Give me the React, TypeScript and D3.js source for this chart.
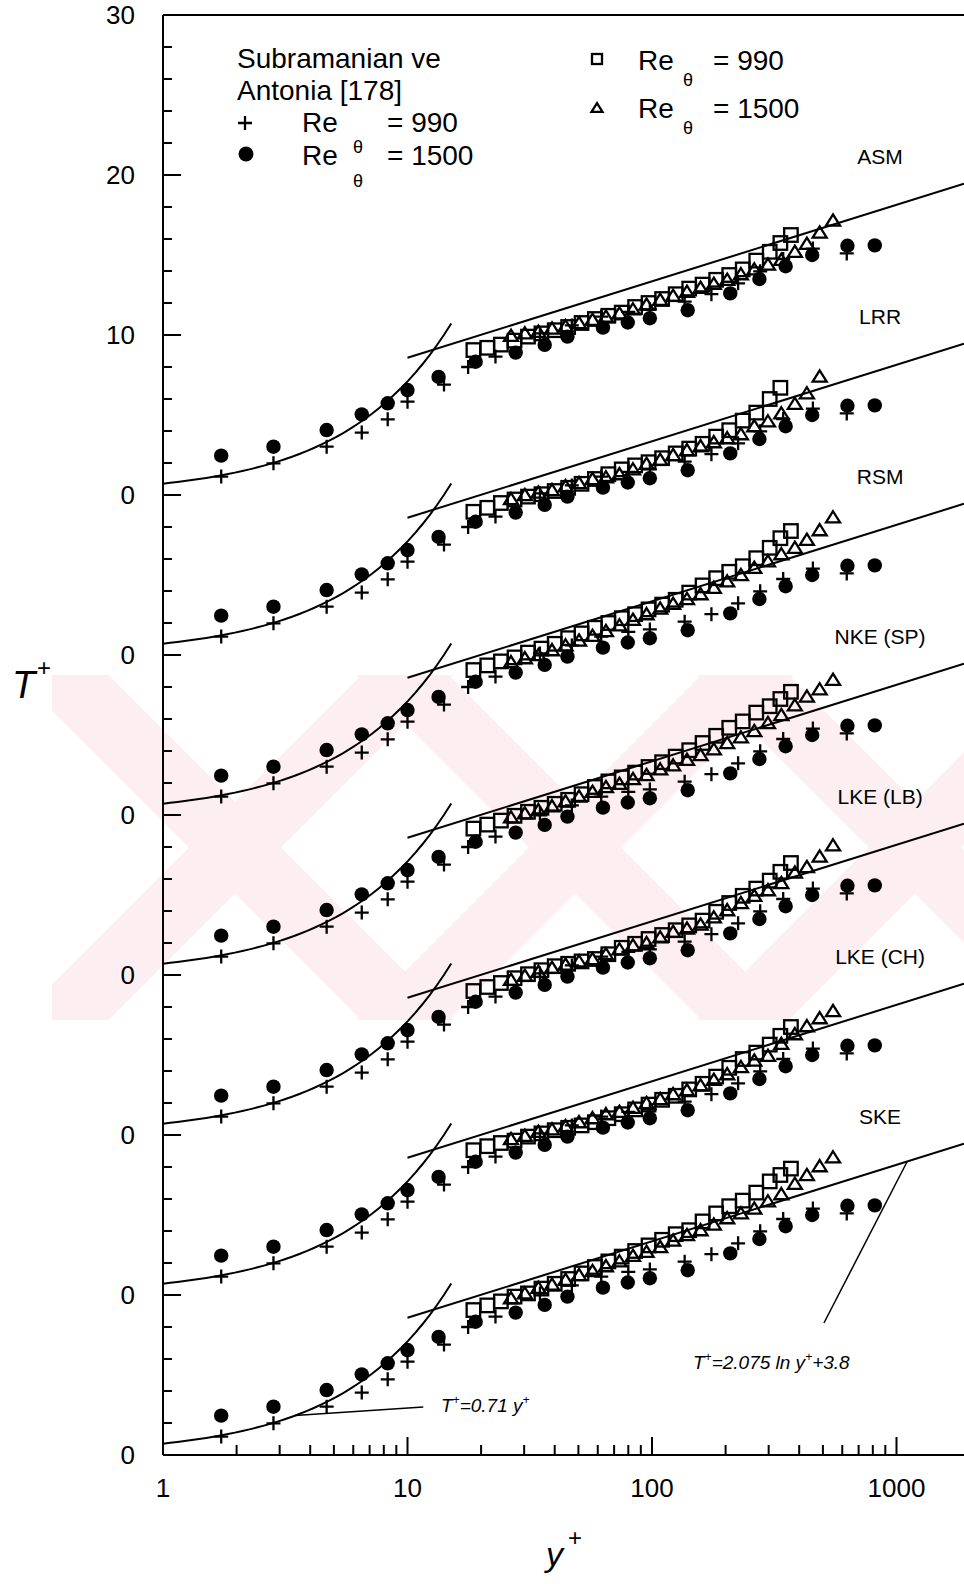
import React from "react";
import * as d3 from "d3";

// ---------- data ----------
const PROFILE_NAMES = ["SKE", "LKE (CH)", "LKE (LB)", "NKE (SP)", "RSM", "LRR", "ASM"];
const PROFILE_OFFSETS = [0, 10, 20, 30, 40, 50, 60];

const Y_TICK_VALUES = [0, 10, 20, 30, 40, 50, 60, 70, 80, 90];
const Y_TICK_LABELS = ["0", "0", "0", "0", "0", "0", "0", "10", "20", "30"];
const X_TICK_VALUES = [1, 10, 100, 1000];
const X_TICK_LABELS = ["1", "10", "100", "1000"];

// Subramanian & Antonia experiments
const EXP990_X = [1.73, 2.83, 4.67, 6.5, 8.3, 10.0, 14.1, 17.7, 22.9, 34.8, 47, 62, 80, 98, 136, 175, 225, 277, 344, 455, 626];
const EXP990_T = [1.15, 1.98, 3.02, 3.9, 4.73, 5.83, 6.9, 8.0, 8.65, 10.1, 10.6, 11.15, 11.45, 11.6, 12.08, 12.55, 13.23, 13.98, 14.75, 15.4, 15.1];
const EXP1500_X = [1.73, 2.83, 4.67, 6.5, 8.3, 10.0, 13.4, 19.0, 27.7, 36.4, 45.1, 63, 79.6, 98, 140, 209, 275, 352, 452, 630, 815];
const EXP1500_T = [2.46, 3.02, 4.06, 5.04, 5.73, 6.56, 7.38, 8.33, 8.9, 9.38, 9.9, 10.46, 10.78, 11.05, 11.55, 12.6, 13.5, 14.3, 15.0, 15.58, 15.6];

// model predictions: grid positions
const SQ_X = [18.6, 21.2, 24.1, 27.4, 31.1, 35.3, 40, 45.4, 51.5, 58.4, 66.3, 75.2, 85.3, 96.8, 110, 125, 142, 161, 183, 207, 235, 267, 303, 335, 370];
const TR_X = [26.5, 30.2, 34.3, 39, 44.3, 50.3, 57.1, 64.8, 73.6, 83.6, 95, 108, 122, 139, 158, 179, 203, 231, 262, 298, 338, 384, 430, 485, 550];

const SQ_SKE = [9.06, 9.35, 9.6, 9.9, 10.1, 10.4, 10.7, 11.0, 11.35, 11.75, 12.1, 12.4, 12.75, 13.1, 13.45, 13.8, 14.05, 14.6, 15.1, 15.55, 15.9, 16.4, 17.1, 17.5, 17.9];
const TR_SKE = [9.8, 10.1, 10.45, 10.65, 10.95, 11.25, 11.5, 11.8, 12.1, 12.45, 12.7, 13.0, 13.4, 13.75, 14.05, 14.4, 14.8, 15.1, 15.4, 15.85, 16.3, 16.95, 17.5, 18.05, 18.6];
const SQ_CH = [9.05, 9.3, 9.5, 9.65, 9.9, 10.1, 10.3, 10.45, 10.6, 10.8, 11.05, 11.3, 11.6, 11.9, 12.2, 12.45, 12.85, 13.2, 13.65, 14.2, 14.75, 15.15, 15.65, 16.2, 16.75];
const TR_CH = [9.75, 9.95, 10.2, 10.35, 10.55, 10.8, 11.05, 11.3, 11.45, 11.7, 12.0, 12.25, 12.55, 12.8, 13.1, 13.45, 13.8, 14.25, 14.65, 14.95, 15.7, 16.3, 16.8, 17.3, 17.75];
const SQ_LB = [9.0, 9.25, 9.5, 9.8, 10.05, 10.3, 10.55, 10.7, 10.85, 11.0, 11.3, 11.7, 11.95, 12.25, 12.5, 12.8, 13.1, 13.4, 13.95, 14.5, 14.95, 15.4, 15.9, 16.45, 17.0];
const TR_LB = [9.7, 9.95, 10.2, 10.45, 10.65, 10.85, 11.0, 11.3, 11.6, 11.85, 12.0, 12.35, 12.7, 12.9, 13.15, 13.6, 14.05, 14.5, 14.95, 15.3, 15.75, 16.4, 16.75, 17.4, 18.1];
const SQ_NKE = [9.15, 9.4, 9.65, 9.95, 10.2, 10.45, 10.7, 10.95, 11.3, 11.75, 12.1, 12.35, 12.65, 13.0, 13.3, 13.65, 14.05, 14.5, 14.95, 15.45, 15.85, 16.4, 16.8, 17.25, 17.7];
const TR_NKE = [9.85, 10.1, 10.3, 10.55, 10.85, 11.15, 11.45, 11.75, 11.95, 12.25, 12.5, 12.85, 13.1, 13.45, 13.75, 14.1, 14.5, 14.85, 15.25, 15.75, 16.25, 16.85, 17.4, 17.85, 18.45];
const SQ_RSM = [9.06, 9.35, 9.6, 9.85, 10.15, 10.4, 10.7, 11.05, 11.35, 11.7, 12.0, 12.3, 12.55, 12.85, 13.15, 13.45, 13.9, 14.35, 14.8, 15.2, 15.55, 16.05, 16.7, 17.3, 17.75];
const TR_RSM = [9.55, 9.8, 10.0, 10.3, 10.6, 10.9, 11.2, 11.5, 11.85, 12.2, 12.55, 12.9, 13.2, 13.5, 13.8, 14.2, 14.6, 15.0, 15.45, 15.85, 16.3, 16.7, 17.2, 17.8, 18.6];
const SQ_LRR = [8.95, 9.2, 9.5, 9.72, 9.9, 10.05, 10.25, 10.45, 10.7, 11.0, 11.3, 11.6, 11.85, 12.05, 12.3, 12.6, 12.9, 13.2, 13.65, 14.05, 14.65, 15.15, 16.0, 16.7];
const TR_LRR = [9.75, 10.0, 10.15, 10.3, 10.55, 10.75, 11.0, 11.1, 11.3, 11.6, 11.95, 12.2, 12.5, 12.8, 13.05, 13.3, 13.55, 13.8, 14.3, 14.6, 15.1, 15.7, 16.35, 17.4];
const SQ_ASM = [9.06, 9.2, 9.4, 9.65, 9.9, 10.1, 10.3, 10.5, 10.75, 11.0, 11.2, 11.4, 11.75, 12.0, 12.25, 12.55, 12.9, 13.15, 13.45, 13.75, 14.1, 14.65, 15.2, 15.75, 16.25];
const TR_ASM = [9.95, 10.1, 10.2, 10.4, 10.55, 10.75, 10.95, 11.15, 11.35, 11.6, 11.9, 12.2, 12.45, 12.7, 12.95, 13.2, 13.45, 13.8, 14.1, 14.4, 14.7, 15.2, 15.7, 16.4, 17.15];

const SQ_SERIES = [SQ_SKE, SQ_CH, SQ_LB, SQ_NKE, SQ_RSM, SQ_LRR, SQ_ASM];
const TR_SERIES = [TR_SKE, TR_CH, TR_LB, TR_NKE, TR_RSM, TR_LRR, TR_ASM];

// theory
const PR = 0.71;
const LOG_A = 2.075;
const LOG_B = 3.8;
const LABEL_X = 857;
const LABEL_DY = 21.2;

// ---------- layout ----------
const W = 964;
const H = 1584;
const FONT = "'Liberation Sans', Arial, Helvetica, sans-serif";

const x = d3.scaleLog().domain([1, 1000]).range([163, 896.5]);
const y = d3.scaleLinear().domain([0, 90]).range([1455, 15]);
const X_LEFT = 163;
const X_RIGHT = 964;
const xEnd = x.invert(X_RIGHT);

const viscous = (v: number) => PR * v;
const logLaw = (v: number) => LOG_A * Math.log(v) + LOG_B;

const line = d3
  .line<[number, number]>()
  .x((d) => x(d[0]))
  .y((d) => y(d[1]));

function Square({ cx, cy, s = 13.5 }: { cx: number; cy: number; s?: number }) {
  return <rect x={cx - s / 2} y={cy - s / 2} width={s} height={s} fill="none" stroke="#000" strokeWidth={2.3} />;
}
function Tri({ cx, cy, s = 14 }: { cx: number; cy: number; s?: number }) {
  const h = s * 0.8;
  const d = `M${cx},${cy - h * 0.55}L${cx + s / 2},${cy + h * 0.45}L${cx - s / 2},${cy + h * 0.45}Z`;
  return <path d={d} fill="none" stroke="#000" strokeWidth={2.3} strokeLinejoin="miter" />;
}
function Cross({ cx, cy, s = 14 }: { cx: number; cy: number; s?: number }) {
  return (
    <path d={`M${cx - s / 2},${cy}H${cx + s / 2}M${cx},${cy - s / 2}V${cy + s / 2}`} stroke="#000" strokeWidth={2.3} />
  );
}

export default function App() {
  const xMinor: number[] = [];
  [1, 10, 100, 1000].forEach((d) => {
    for (let k = 2; k <= 9; k++) {
      const v = k * d;
      if (x(v) < X_RIGHT - 2) xMinor.push(v);
    }
  });
  const yMinor = d3.range(0, 91, 2).filter((v) => v % 10 !== 0);

  const viscSamples = d3.range(0, 41).map((i) => Math.pow(10, (i / 40) * Math.log10(15.1)));

  // watermark bands (45 degree stripes)
  const wmTop = 675;
  const wmBot = 1020;
  const wmH = wmBot - wmTop;
  const wmCenters = [235, 575, 915];
  const bw = 92;
  const bands: string[] = [];
  wmCenters.forEach((c) => {
    const l = c - wmH / 2;
    const r = c + wmH / 2;
    bands.push(`M${l - bw / 2},${wmTop}L${l + bw / 2},${wmTop}L${r + bw / 2},${wmBot}L${r - bw / 2},${wmBot}Z`);
    bands.push(`M${r - bw / 2},${wmTop}L${r + bw / 2},${wmTop}L${l + bw / 2},${wmBot}L${l - bw / 2},${wmBot}Z`);
  });

  const visc0 = 3.47;
  const logAnn = 1106;

  return (
    <svg
      width={W}
      height={H}
      viewBox={`0 0 ${W} ${H}`}
      style={{ position: "absolute", left: 0, top: 0, background: "#fff" }}
      fontFamily={FONT}
    >
      <defs>
        <clipPath id="wmclip">
          <rect x={52} y={wmTop} width={W - 52} height={wmH} />
        </clipPath>
      </defs>
      <rect x={0} y={0} width={W} height={H} fill="#fff" />
      <g clipPath="url(#wmclip)" fill="#fdeef1">
        {bands.map((d, i) => (
          <path key={i} d={d} />
        ))}
      </g>

      {/* axes frame */}
      <g stroke="#000" strokeWidth={2} fill="none">
        <line x1={X_LEFT} x2={X_LEFT} y1={y(90)} y2={y(0)} />
        <line x1={X_LEFT} x2={X_RIGHT} y1={y(0)} y2={y(0)} />
        <line x1={X_LEFT} x2={X_RIGHT} y1={y(90)} y2={y(90)} />
        {Y_TICK_VALUES.map((v) => (
          <line key={"ym" + v} x1={X_LEFT} x2={X_LEFT + 18} y1={y(v)} y2={y(v)} />
        ))}
        {yMinor.map((v) => (
          <line key={"yn" + v} x1={X_LEFT} x2={X_LEFT + 9} y1={y(v)} y2={y(v)} />
        ))}
        {X_TICK_VALUES.map((v) => (
          <line key={"xm" + v} x1={x(v)} x2={x(v)} y1={y(0)} y2={y(0) - 18} />
        ))}
        {xMinor.map((v) => (
          <line key={"xn" + v} x1={x(v)} x2={x(v)} y1={y(0)} y2={y(0) - 10} />
        ))}
      </g>
      <g fontSize={26} fill="#000">
        {Y_TICK_VALUES.map((v, i) => (
          <text key={"yl" + v} x={135} y={y(v) + 9} textAnchor="end">
            {Y_TICK_LABELS[i]}
          </text>
        ))}
        {X_TICK_VALUES.map((v, i) => (
          <text key={"xl" + v} x={x(v)} y={1497} textAnchor="middle">
            {X_TICK_LABELS[i]}
          </text>
        ))}
      </g>

      {/* axis titles */}
      <text x={12} y={698} fontSize={38} fontStyle="italic">
        T
      </text>
      <text x={37} y={676} fontSize={24}>
        +
      </text>
      <text x={546} y={1566} fontSize={34} fontStyle="italic">
        y
      </text>
      <text x={568} y={1546} fontSize={24}>
        +
      </text>

      {/* profiles */}
      {PROFILE_OFFSETS.map((off, pi) => {
        const sq = SQ_SERIES[pi];
        const tr = TR_SERIES[pi];
        return (
          <g key={PROFILE_NAMES[pi]}>
            <path
              d={line(viscSamples.map((v) => [v, viscous(v) + off] as [number, number])) || ""}
              fill="none"
              stroke="#000"
              strokeWidth={2}
            />
            <path
              d={line([[10, logLaw(10) + off], [xEnd, logLaw(xEnd) + off]]) || ""}
              fill="none"
              stroke="#000"
              strokeWidth={2}
            />
            {EXP1500_X.map((v, i) => (
              <circle key={"c" + i} cx={x(v)} cy={y(EXP1500_T[i] + off)} r={7.2} fill="#000" />
            ))}
            {EXP990_X.map((v, i) => (
              <Cross key={"p" + i} cx={x(v)} cy={y(EXP990_T[i] + off)} />
            ))}
            {sq.map((t, i) => (
              <Square key={"s" + i} cx={x(SQ_X[i])} cy={y(t + off)} />
            ))}
            {tr.map((t, i) => (
              <Tri key={"t" + i} cx={x(TR_X[i])} cy={y(t + off)} />
            ))}
            <text x={x(LABEL_X)} y={y(off + LABEL_DY) + 8} fontSize={21} textAnchor="middle">
              {PROFILE_NAMES[pi]}
            </text>
          </g>
        );
      })}

      {/* annotations */}
      <g stroke="#000" strokeWidth={1.5} fill="none">
        <line x1={x(visc0)} y1={y(viscous(visc0))} x2={x(11.6)} y2={y(3.0)} />
        <line x1={x(logAnn)} y1={y(logLaw(logAnn))} x2={x(505)} y2={y(8.25)} />
      </g>
      <text x={441} y={1412} fontSize={19} fontStyle="italic">
        T<tspan dy={-8} fontSize={12}>+</tspan>
        <tspan dy={8}>=0.71 y</tspan>
        <tspan dy={-8} fontSize={12}>+</tspan>
      </text>
      <text x={693} y={1369} fontSize={19} fontStyle="italic">
        T<tspan dy={-8} fontSize={12}>+</tspan>
        <tspan dy={8}>=2.075 ln y</tspan>
        <tspan dy={-8} fontSize={12}>+</tspan>
        <tspan dy={8}>+3.8</tspan>
      </text>

      {/* legend left */}
      <g fontSize={28} fill="#000">
        <text x={237} y={68}>Subramanian ve</text>
        <text x={237} y={100}>Antonia [178]</text>
        <Cross cx={245} cy={123} s={14} />
        <text x={302} y={132}>Re</text>
        <text x={353} y={153} fontSize={18}>θ</text>
        <text x={387} y={132}>= 990</text>
        <circle cx={246} cy={154} r={7.5} fill="#000" />
        <text x={302} y={165}>Re</text>
        <text x={353} y={187} fontSize={18}>θ</text>
        <text x={387} y={165}>= 1500</text>
      </g>
      {/* legend right */}
      <g fontSize={28} fill="#000">
        <Square cx={597} cy={59} s={10} />
        <text x={638} y={70}>Re</text>
        <text x={683} y={86} fontSize={18}>θ</text>
        <text x={713} y={70}>= 990</text>
        <Tri cx={597} cy={108} s={11} />
        <text x={638} y={118}>Re</text>
        <text x={683} y={134} fontSize={18}>θ</text>
        <text x={713} y={118}>= 1500</text>
      </g>
    </svg>
  );
}
